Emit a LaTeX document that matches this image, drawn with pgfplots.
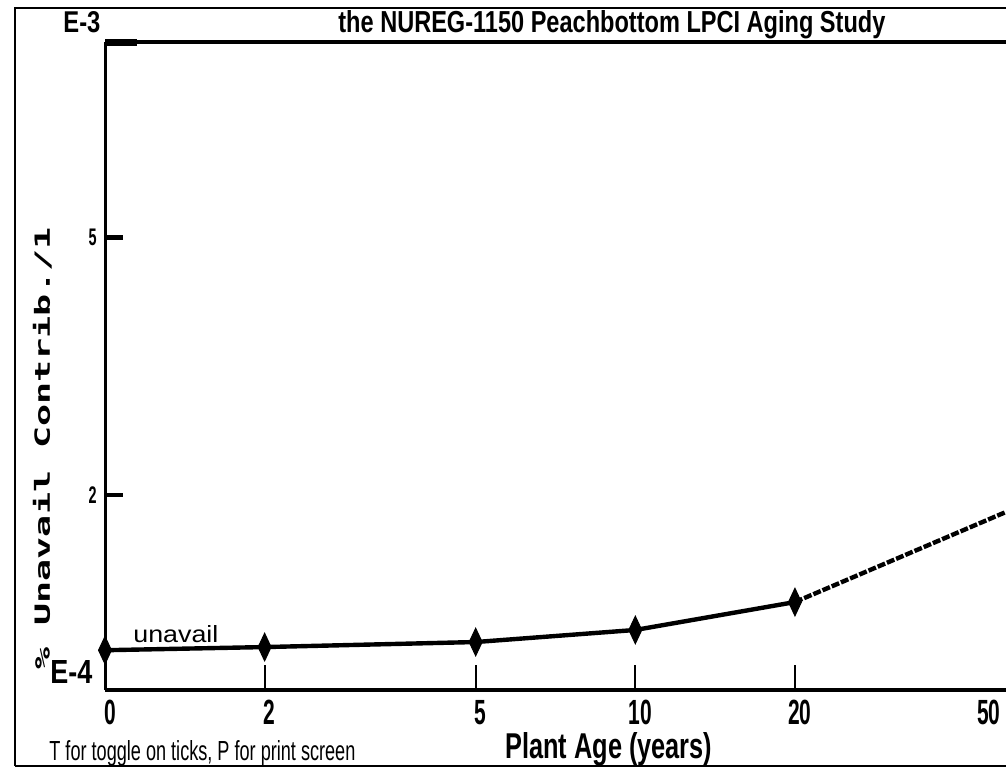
\documentclass[border=0pt]{standalone}
\usepackage{fontspec}
\setmainfont{Liberation Sans}
\newfontfamily\cond{Liberation Sans}[FakeStretch=0.6]
\newfontfamily\mono{DejaVu Sans Mono}
\usepackage{graphicx}
\usepackage{pgfplots}
\pgfplotsset{compat=1.18}
\newcommand\fit[3]{\resizebox{#1}{#2}{#3}}
\begin{document}
\begin{tikzpicture}
\begin{axis}[
  at={(52.5pt,-345pt)}, anchor=south west,
  scale only axis, width=450.5pt, height=324pt,
  xmode=log, ymode=log,
  xmin=1, xmax=50, ymin=1e-4, ymax=1e-3,
  clip=false,
  axis line style={draw=none},
  tick style={draw=none},
  major tick length=0pt, minor tick length=0pt,
  xtick={1,2,5,10,20}, xticklabels={0,2,5,10,20},
  extra x ticks={50}, extra x tick labels={50},
  extra x tick style={xticklabel style={anchor=north east, xshift=-5pt}},
  ytick={2e-4,5e-4}, yticklabels={2,5},
  xticklabel style={font=\cond\bfseries\fontsize{17.5}{17.5}\selectfont, inner sep=0pt, anchor=north, yshift=-5pt, xshift=2.5pt},
  yticklabel style={font=\cond\bfseries\fontsize{12}{12}\selectfont, inner sep=0pt, anchor=east, xshift=-4pt},
]
% axis frame lines
\draw[line width=2pt] (rel axis cs:0,0) -- (rel axis cs:1.05,0);
\draw[line width=1.5pt] (rel axis cs:0,0) -- (rel axis cs:0,1);
\draw[line width=2pt] (rel axis cs:0,1) -- (rel axis cs:1.05,1);
\draw[line width=3.5pt] (rel axis cs:0,1) -- ++(16pt,0pt);
% x ticks
\draw[line width=1pt] (axis cs:2,1e-4) -- ++(0pt,12.5pt);
\draw[line width=1pt] (axis cs:5,1e-4) -- ++(0pt,12.5pt);
\draw[line width=1pt] (axis cs:10,1e-4) -- ++(0pt,12.5pt);
\draw[line width=1pt] (axis cs:20,1e-4) -- ++(0pt,12.5pt);
% y ticks
\draw[line width=2.4pt] (axis cs:1,2e-4) -- ++(9pt,0pt);
\draw[line width=2.4pt] (axis cs:1,5e-4) -- ++(9pt,0pt);
% data
\addplot[line width=2.2pt, black, mark=diamond*, mark size=4.3pt,
  mark options={yscale=1.6, solid, line width=0.5pt}]
  coordinates {(1,1.152e-4) (2,1.165e-4) (5,1.186e-4) (10,1.238e-4) (20,1.367e-4)};
\addplot[line width=2.2pt, black, no marks, dash pattern=on 4pt off 1pt]
  coordinates {(20,1.367e-4) (50,1.883e-4)};
\end{axis}
\begin{scope}[x=0.5pt,y=-0.5pt]
% outer frame
\draw[line width=1pt] (15,766) -- (15,8) -- (1030,8);
\draw[line width=1pt] (15,766) -- (1030,766);
% texts
\node[anchor=base west, inner sep=0pt] at (338,33) {\fit{273.5pt}{11pt}{\cond\bfseries the NUREG-1150 Peachbottom LPCI Aging Study}};
\node[anchor=base west, inner sep=0pt] at (63,33) {\fit{18.5pt}{10.5pt}{\cond\bfseries E-3}};
\node[anchor=base west, inner sep=0pt] at (50,683) {\fit{21pt}{11.5pt}{\cond\bfseries E-4}};
\node[anchor=base west, inner sep=0pt] at (133,642) {\fit{42.5pt}{8.5pt}{\cond unavail}};
\node[anchor=base west, inner sep=0pt] at (505,758) {\fit{103.5pt}{13pt}{\cond\bfseries Plant Age (years)}};
\node[anchor=base west, inner sep=0pt] at (49,760) {\fit{153pt}{10pt}{\cond T for toggle on ticks, P for print screen}};
\node[rotate=90, anchor=base west, inner sep=0pt] at (50,670) {\fit{221pt}{8.5pt}{\mono\bfseries\% Unavail Contrib./1}};
\end{scope}
\pgfresetboundingbox
\useasboundingbox (0pt,0pt) rectangle (503pt,-385pt);
\end{tikzpicture}
\end{document}
